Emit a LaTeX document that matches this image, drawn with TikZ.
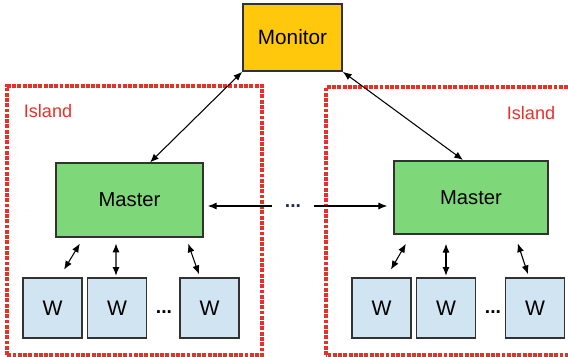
\documentclass[tikz,border=0pt]{standalone}
\usepackage{fontspec}
\setmainfont{Liberation Sans}
\usetikzlibrary{arrows.meta}

\definecolor{monitorfill}{RGB}{255,200,12}
\definecolor{masterfill}{RGB}{126,216,122}
\definecolor{workerfill}{RGB}{208,228,242}
\definecolor{islandred}{RGB}{232,48,40}
\definecolor{boxedge}{RGB}{50,50,50}
\definecolor{dotsblue}{RGB}{30,40,90}

\begin{document}
\begin{tikzpicture}
    \tikzset{box/.style={draw=boxedge, line width=0.9pt, inner sep=0pt}}
    \tikzset{island/.style={islandred, line width=1.9pt, dash pattern=on 2.2pt off 0.8pt}}
    \tikzset{link/.style={{Latex[length=5pt,width=4pt]}-{Latex[length=5pt,width=4pt]}, line width=0.6pt}}
    \tikzset{onelink/.style={-{Latex[length=5pt,width=4pt]}, line width=0.6pt}}
    \tikzset{master/.style={box, fill=masterfill, minimum height=1.47cm, font=\fontsize{11.5}{13}\selectfont}}
    \tikzset{worker/.style={box, fill=workerfill, minimum width=1.18cm, minimum height=1.2cm, font=\fontsize{12}{14}\selectfont}}
    \clip (0,0) rectangle (11.36,7.12);
    % islands
    \draw[island] (0.14,0.02) rectangle (5.24,5.4);
    \draw[island] (6.52,0.02) rectangle (11.6,5.38);
    \node[islandred, font=\fontsize{10.3}{12}\selectfont] (islandL) at (0.96,4.9) {Island};
    \node[islandred, font=\fontsize{10.3}{12}\selectfont] (islandR) at (10.62,4.86) {Island};
    % monitor and masters
    \node[box, fill=monitorfill, minimum width=1.98cm, minimum height=1.34cm, font=\fontsize{11.8}{13}\selectfont] (mon) at (5.85,6.37) {Monitor};
    \node[master, minimum width=2.94cm] (mL) at (2.59,3.12) {Master};
    \node[master, minimum width=3.08cm] (mR) at (9.42,3.17) {Master};
    % workers
    \foreach \n/\x in {1/1.05, 2/2.34, 3/4.19} {
        \node[worker] (wL\n) at (\x,0.96) {W};
    }
    \foreach \n/\x in {1/7.63, 2/8.92, 3/10.7} {
        \node[worker] (wR\n) at (\x,0.96) {W};
    }
    \node[font=\bfseries\fontsize{11}{13}\selectfont] (dotsL) at (3.28,0.88) {...};
    \node[font=\bfseries\fontsize{11}{13}\selectfont] (dotsR) at (9.86,0.88) {...};
    \node[font=\bfseries\fontsize{11}{13}\selectfont, text=dotsblue, minimum width=0.84cm, inner sep=0pt] (dotsM) at (5.86,3.0) {...};
    % links
    \draw[link] (mon.south west) -- ([xshift=0.41cm]mL.north);
    \draw[link] (mon.south east) -- ([xshift=-0.16cm]mR.north);
    \draw[onelink, shorten >=2.3pt] (dotsM.west) -- (dotsM.west -| mL.east);
    \draw[onelink, shorten >=3.4pt] (dotsM.east) -- (dotsM.east -| mR.west);
    \draw[link, shorten <=4pt, shorten >=5pt] ([xshift=-0.92cm]mL.south) -- ([xshift=0.14cm]wL1.north);
    \draw[link, shorten <=3.4pt, shorten >=0.8pt] ([xshift=-0.27cm]mL.south) -- ([xshift=-0.02cm]wL2.north);
    \draw[link, shorten <=3.6pt, shorten >=1.8pt] ([xshift=1.13cm]mL.south) -- ([xshift=-0.19cm]wL3.north);
    \draw[link, shorten <=5.8pt, shorten >=5pt] ([xshift=-1.2cm]mR.south) -- ([xshift=0.1cm]wR1.north);
    \draw[link, shorten <=5pt, shorten >=0.8pt] ([xshift=-0.5cm]mR.south) -- (wR2.north);
    \draw[link, shorten <=5pt, shorten >=1.8pt] ([xshift=0.88cm]mR.south) -- ([xshift=-0.12cm]wR3.north);
\end{tikzpicture}
\end{document}
